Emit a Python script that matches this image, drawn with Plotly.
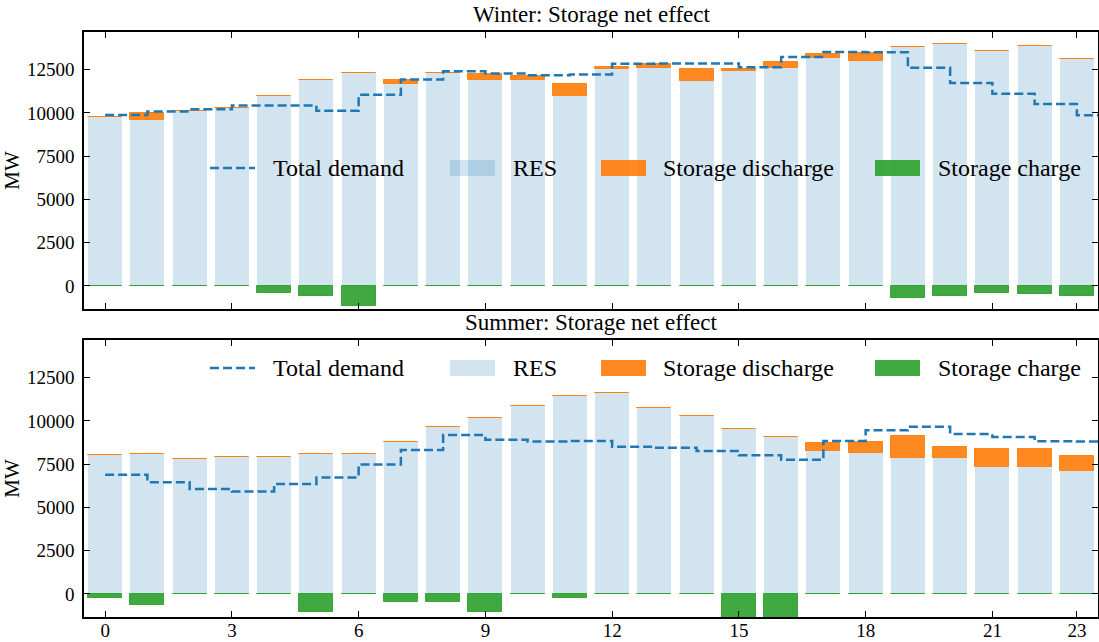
import plotly.graph_objects as go

hours = list(range(24))
x_tick_vals = [0, 3, 6, 9, 12, 15, 18, 21, 23]
y_tick_vals = [0, 2500, 5000, 7500, 10000, 12500]
y_tick_text = ["0", "2500", "5000", "7500", "10000", "12500"]

# Winter
res_winter = [9770, 9600, 10115, 10300, 10990, 11900, 12310, 11670, 12310, 11900, 11880, 10970,
              12520, 12600, 11830, 12400, 12580, 13150, 12980, 13810, 13980, 13580, 13870, 13120]
discharge_winter = [0, 420, 0, 0, 0, 0, 0, 210, 0, 330, 230, 690,
                    115, 210, 690, 115, 345, 230, 470, 0, 0, 0, 0, 0]
charge_winter = [0, 0, 0, 0, -385, -560, -1135, 0, 0, 0, 0, 0,
                 0, 0, 0, 0, 0, 0, 0, -670, -560, -385, -440, -560]
demand_winter = [9880, 10080, 10210, 10430, 10430, 10120, 11050, 11920, 12400, 12280, 12170, 12220,
                 12830, 12850, 12850, 12640, 13230, 13520, 13500, 12600, 11730, 11100, 10510, 9866]

# Summer
res_summer = [8010, 8070, 7780, 7920, 7920, 8070, 8070, 8760, 9620, 10140, 10830, 11460,
              11600, 10770, 10260, 9530, 9050, 8280, 8170, 7880, 7880, 7360, 7360, 7130]
discharge_summer = [0, 0, 0, 0, 0, 0, 0, 0, 0, 0, 0, 0,
                    0, 0, 0, 0, 0, 460, 630, 1265, 630, 1035, 1035, 865]
charge_summer = [-210, -610, 0, 0, 0, -1015, 0, -440, -440, -1015, 0, -210,
                 0, 0, 0, -1450, -1450, 0, 0, 0, 0, 0, 0, 0]
demand_summer = [6880, 6460, 6060, 5920, 6350, 6730, 7480, 8320, 9180, 8910, 8800, 8840,
                 8510, 8440, 8260, 8010, 7750, 8840, 9450, 9660, 9240, 9070, 8820, 8800]

titles = ["Winter: Storage net effect", "Summer: Storage net effect"]
legend_labels = ["Total demand", "RES", "Storage discharge", "Storage charge"]

DEM_C = "#1f77b4"
RES_C = "rgba(31,119,180,0.2)"
DIS_C = "rgba(255,127,14,0.92)"
CHG_C = "rgba(44,160,44,0.9)"
FONT = "Liberation Serif"

W, H = 1099, 642
ML, MR, MT, MB = 84, 1, 32, 25
PW = W - ML - MR
PH = H - MT - MB
top_dom = [(H - MB - 309) / PH, 1.0]
bot_dom = [0.0, (H - MB - 340) / PH]

fig = go.Figure()
panels = [
    (res_winter, discharge_winter, charge_winter, demand_winter, "x", "y"),
    (res_summer, discharge_summer, charge_summer, demand_summer, "x2", "y2"),
]
for res, dis, chg, dem, xa, ya in panels:
    fig.add_trace(go.Bar(x=hours, y=res, width=0.8, marker=dict(color=RES_C, line=dict(width=0)),
                         xaxis=xa, yaxis=ya, showlegend=False, name=legend_labels[1]))
    fig.add_trace(go.Bar(x=hours, y=dis, base=res, width=0.8,
                         marker=dict(color=DIS_C, line=dict(color=DIS_C, width=1)),
                         xaxis=xa, yaxis=ya, showlegend=False, name=legend_labels[2]))
    fig.add_trace(go.Bar(x=hours, y=chg, width=0.8,
                         marker=dict(color=CHG_C, line=dict(color=CHG_C, width=1)),
                         xaxis=xa, yaxis=ya, showlegend=False, name=legend_labels[3]))
    fig.add_trace(go.Scatter(x=hours + [24], y=dem + [dem[-1]], mode="lines",
                             line=dict(shape="hv", dash="9px,4px", width=2.5, color=DEM_C),
                             xaxis=xa, yaxis=ya, showlegend=False, name=legend_labels[0]))

# manual legends (pixel positions converted to axis-domain fractions)
def fx(px):
    return (px - ML) / PW

shapes = []
annotations = []
legend_centers = [("x domain", "y domain", (309 - 168) / 277), ("x2 domain", "y2 domain", (617 - 368) / 277)]
hh = 8 / 277
for xr, yr, yc in legend_centers:
    shapes.append(dict(type="line", xref=xr, yref=yr, x0=fx(210), x1=fx(255), y0=yc, y1=yc,
                       line=dict(color=DEM_C, width=2.5, dash="9px,4px"), layer="above"))
    for (x0, x1), col in zip([(450, 495), (601, 646), (875, 920)], [RES_C, DIS_C, CHG_C]):
        shapes.append(dict(type="rect", xref=xr, yref=yr, x0=fx(x0), x1=fx(x1), y0=yc - hh, y1=yc + hh,
                           fillcolor=col, line=dict(width=0), layer="above"))
    for tx, lab in zip([272, 512, 662, 937], legend_labels):
        annotations.append(dict(xref=xr, yref=yr, x=fx(tx), y=yc, text=lab, showarrow=False,
                                xanchor="left", yanchor="middle", borderpad=0,
                                font=dict(family=FONT, size=24, color="black")))

for title, py in zip(titles, [14, 322]):
    annotations.append(dict(xref="paper", yref="paper", x=0.5, y=(H - MB - py) / PH, text=title,
                            showarrow=False, xanchor="center", yanchor="middle",
                            font=dict(family=FONT, size=23, color="black")))

axis_common = dict(showline=True, linecolor="black", linewidth=1.5, mirror="ticks", ticks="inside",
                   ticklen=6, tickwidth=1.3, tickcolor="black", showgrid=False, zeroline=False,
                   automargin=False, tickfont=dict(family=FONT, size=19, color="black"))

fig.update_layout(
    width=W, height=H, margin=dict(l=ML, r=MR, t=MT, b=MB, autoexpand=False),
    paper_bgcolor="white", plot_bgcolor="white", barmode="overlay", bargap=0,
    font=dict(family=FONT, color="black"),
    shapes=shapes, annotations=annotations,
    xaxis=dict(domain=[0, 1], anchor="y", range=[-0.5, 23.5], tickvals=x_tick_vals,
               showticklabels=False, **axis_common),
    xaxis2=dict(domain=[0, 1], anchor="y2", range=[-0.5, 23.5], tickvals=x_tick_vals,
                matches="x", ticklabelstandoff=-5, **axis_common),
    yaxis=dict(domain=top_dom, anchor="x", range=[-1330, 14670], tickvals=y_tick_vals,
               ticktext=y_tick_text, ticklabelstandoff=4,
               title=dict(text="MW", font=dict(family=FONT, size=21), standoff=10), **axis_common),
    yaxis2=dict(domain=bot_dom, anchor="x2", range=[-1330, 14670], tickvals=y_tick_vals,
                ticktext=y_tick_text, ticklabelstandoff=4,
                title=dict(text="MW", font=dict(family=FONT, size=21), standoff=10), **axis_common),
)

fig.write_html("out.html")
